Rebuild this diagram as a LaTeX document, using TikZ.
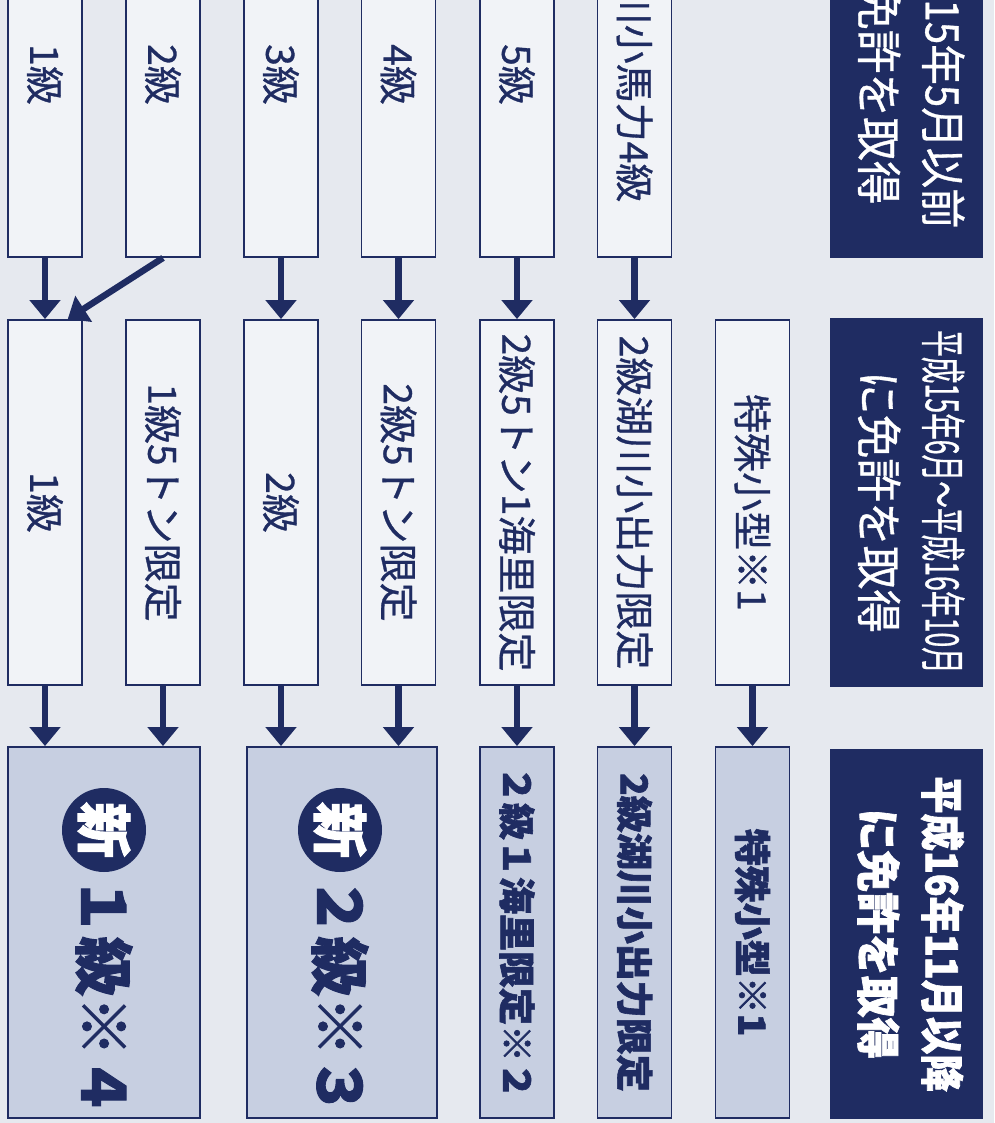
\documentclass[tikz,border=0pt]{standalone}
\usepackage{fontspec}
\setmainfont{Noto Sans CJK JP}[UprightFeatures={FakeBold=0.8},BoldFeatures={FakeBold=1.6}]
\usetikzlibrary{calc,positioning,arrows.meta}
\definecolor{navy}{HTML}{1F2C62}
\definecolor{paper}{HTML}{F1F3F7}
\definecolor{newfill}{HTML}{C7CFE1}
\definecolor{bgpaper}{HTML}{E6E9EF}
\newcommand{\vtxt}[1]{\rotatebox[origin=c]{-90}{#1}}

\begin{document}
\begin{tikzpicture}[
    x=1pt,y=-1pt,
    grade/.style={draw=navy,line width=1.8pt,fill=paper,text=navy,minimum width=74pt,minimum height=365pt,inner sep=0pt,font=\fontsize{39}{44}\selectfont},
    newgrade/.style={grade,fill=newfill,minimum height=371pt,font=\bfseries\fontsize{37}{44}\selectfont},
    header/.style={fill=navy,text=white,minimum width=153pt,minimum height=369pt,inner sep=0pt,font=\fontsize{46}{64}\selectfont},
    badge/.style={circle,fill=navy,text=white,minimum size=84pt,inner sep=0pt,font=\bfseries\fontsize{56}{56}\selectfont},
    newname/.style={text=navy,inner sep=0pt,font=\bfseries\fontsize{60}{60}\selectfont},
    flow/.style={navy,line width=6.5pt,-{Triangle[width=30pt,length=19pt]}}
    ]

  \useasboundingbox (0,0) rectangle (994,1123);
  \clip (0,0) rectangle (994,1123);
  \fill[bgpaper] (0,0) rectangle (994,1123);

  % headers
  \node(headOld) [header] at (906.5,73.5) {\vtxt{\begin{tabular}{@{}c@{}}\scalebox{.88}[1]{平成15年5月以前}\\ \scalebox{.95}[1]{に免許を取得}\end{tabular}}};
  \node(headMid) [header] at (906.5,502) {\vtxt{\begin{tabular}{@{}c@{}}\scalebox{.58}[1]{平成15年6月～平成16年10月}\\ \scalebox{.95}[1]{に免許を取得}\end{tabular}}};
  \node(headNew) [header,minimum height=370pt,font=\bfseries\fontsize{44}{64}\selectfont] at (906.5,934) {\vtxt{\begin{tabular}{@{}c@{}}\scalebox{.85}[1]{平成16年11月以降}\\ \scalebox{.95}[1]{に免許を取得}\end{tabular}}};

  % old licences
  \node(old1) [grade] at (45,74.5) {\vtxt{1級}};
  \node(old2) [grade] at (163,74.5) {\vtxt{2級}};
  \node(old3) [grade] at (281,74.5) {\vtxt{3級}};
  \node(old4) [grade] at (398.5,74.5) {\vtxt{4級}};
  \node(old5) [grade] at (517,74.5) {\vtxt{5級}};
  \node(old6) [grade] at (634.5,74.5) {\vtxt{湖川小馬力4級}};

  % middle period
  \node(mid1) [grade] at (45,502.5) {\vtxt{1級}};
  \node(mid2) [grade] at (163,502.5) {\vtxt{1級5トン限定}};
  \node(mid3) [grade] at (281,502.5) {\vtxt{2級}};
  \node(mid4) [grade] at (398.5,502.5) {\vtxt{2級5トン限定}};
  \node(mid5) [grade] at (517,502.5) {\vtxt{2級5トン1海里限定}};
  \node(mid6) [grade] at (634.5,502.5) {\vtxt{2級湖川小出力限定}};
  \node(mid7) [grade] at (752.5,502.5) {\vtxt{特殊小型※1}};

  % new licences
  \node(new1) [newgrade,minimum width=192pt] at (104,932.5) {};
  \node(badge1) [badge] at (104,830) {\vtxt{新}};
  \node(newName1) [newname,below=4pt of badge1] {\vtxt{１級※４}};

  \node(new2) [newgrade,minimum width=190pt] at (342,932.5) {};
  \node(badge2) [badge] at (340,830) {\vtxt{新}};
  \node(newName2) [newname,below=4pt of badge2] {\vtxt{２級※３}};

  \node(new3) [newgrade] at (517,932.5) {\vtxt{２級１海里限定※２}};
  \node(new4) [newgrade] at (634.5,932.5) {\vtxt{2級湖川小出力限定}};
  \node(new5) [newgrade] at (752.5,932.5) {\vtxt{特殊小型※1}};

  \draw[flow] (old1.south) -- (mid1.north);
  \draw[flow] (old2.south) -- ($(mid1.north)!0.6!(mid1.north east)$);
  \draw[flow] (old3.south) -- (mid3.north);
  \draw[flow] (old4.south) -- (mid4.north);
  \draw[flow] (old5.south) -- (mid5.north);
  \draw[flow] (old6.south) -- (mid6.north);

  \draw[flow] (mid1.south) -- (mid1.south |- new1.north);
  \draw[flow] (mid2.south) -- (mid2.south |- new1.north);
  \draw[flow] (mid3.south) -- (mid3.south |- new2.north);
  \draw[flow] (mid4.south) -- (mid4.south |- new2.north);
  \draw[flow] (mid5.south) -- (new3.north);
  \draw[flow] (mid6.south) -- (new4.north);
  \draw[flow] (mid7.south) -- (new5.north);

\end{tikzpicture}
\end{document}
